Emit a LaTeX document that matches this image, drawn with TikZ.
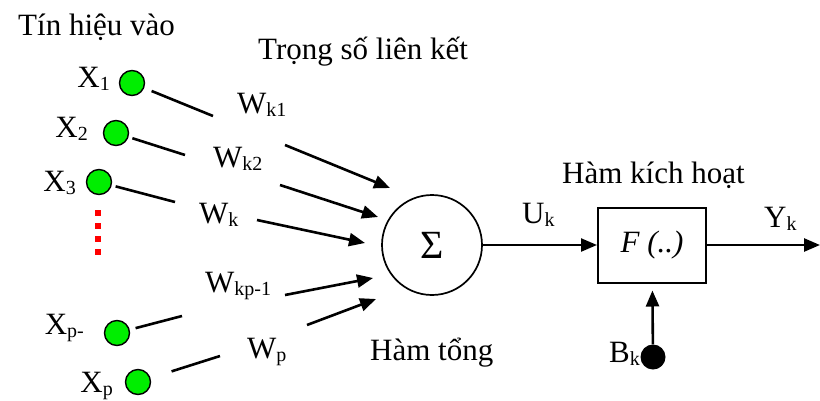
\documentclass[tikz,border=0pt]{standalone}
\usepackage{fontspec}
\setmainfont{Liberation Serif}
\usetikzlibrary{arrows.meta}
\definecolor{inputgreen}{HTML}{00EE00}
\definecolor{dotred}{HTML}{FF0000}
\newcommand{\idx}[1]{\raisebox{-3pt}{\fontsize{20}{20}\selectfont #1}}

\begin{document}
\begin{tikzpicture}[x=1pt, y=-1pt,
  font=\fontsize{31}{36}\selectfont,
  input/.style={circle, draw=black, line width=1.4pt, fill=inputgreen,
    minimum size=25pt, inner sep=0pt},
  tag/.style={anchor=base west, inner sep=0pt},
  wire/.style={line width=2.6pt},
  arrow/.style={-{Triangle[length=16pt,width=13pt]}, line width=2.6pt}
]
\useasboundingbox (0,0) rectangle (820,400);

\node[tag] (title) at (18,35) {Tín hiệu vào};
\node[tag] (weights) at (258,59) {Trọng số liên kết};

% inputs
\node[input] (x1) at (132,83) {};
\node[input] (x2) at (116,133) {};
\node[input] (x3) at (99,182) {};
\node[input] (xq) at (117,333) {};
\node[input] (xp) at (138,382) {};
\node[tag, anchor=base east] (lx1) at (110,87) {X\idx{1}};
\node[tag, anchor=base east] (lx2) at (88,137) {X\idx{2}};
\node[tag, anchor=base east] (lx3) at (76,191) {X\idx{3}};
\node[tag, anchor=base east] (lxq) at (84,334) {X\idx{p-}};
\node[tag, anchor=base east] (lxp) at (113,392) {X\idx{p}};
\draw[dotred, line width=6pt, dash pattern=on 6pt off 7pt] (98,210) -- (98,258);

% weights
\node[tag] (w1) at (237,113) {W\idx{k1}};
\node[tag] (w2) at (213,167) {W\idx{k2}};
\node[tag] (wk) at (199,223) {W\idx{k}};
\node[tag] (wq) at (205,292) {W\idx{kp-1}};
\node[tag] (wp) at (247,358) {W\idx{p}};

\coordinate (e1) at (213,116);
\coordinate (e2) at (185,155);
\coordinate (e3) at (175,202);
\coordinate (e4) at (182,316);
\coordinate (e5) at (220,356);
\foreach \a/\b/\g in {x1/e1/8,x2/e2/4,x3/e3/4,xq/e4/6,xp/e5/22}
  \draw[wire, shorten <=\g pt] (\a) -- (\b);

\coordinate (s1) at (285,145); \coordinate (t1) at (390,188);
\coordinate (s2) at (280,185); \coordinate (t2) at (378,217);
\coordinate (s3) at (257,220); \coordinate (t3) at (365,243);
\coordinate (s4) at (285,295); \coordinate (t4) at (373,278);
\coordinate (s5) at (307,325); \coordinate (t5) at (376,299);
\foreach \i in {1,...,5}
  \draw[arrow] (s\i) -- (t\i);

% summation and activation
\node[circle, draw, line width=1.7pt, minimum size=100pt, inner sep=0pt,
  font=\fontsize{40}{40}\selectfont] (sum) at (432,245) {Σ};
\node[tag] (sumname) at (370,360) {Hàm tổng};
\node[tag] (uk) at (522,223) {U\idx{k}};

\node[draw, line width=2pt, minimum width=108pt, minimum height=75pt,
  inner sep=0pt] (act) at (652,245) {\textit{F (..)}};
\node[tag] (actname) at (562,183) {Hàm kích hoạt};
\node[tag] (yk) at (764,227) {Y\idx{k}};
\coordinate (yout) at (820,245);

\node[circle, fill=black, minimum size=25pt, inner sep=0pt] (bias) at (653,357) {};
\node[tag, anchor=base east] (bk) at (640,362) {B\idx{k}};

\draw[arrow, line width=2.3pt] (sum) -- (act);
\draw[arrow] (act) -- (yout);
\draw[arrow, shorten >=7pt] (bias) -- (act);
\end{tikzpicture}
\end{document}
